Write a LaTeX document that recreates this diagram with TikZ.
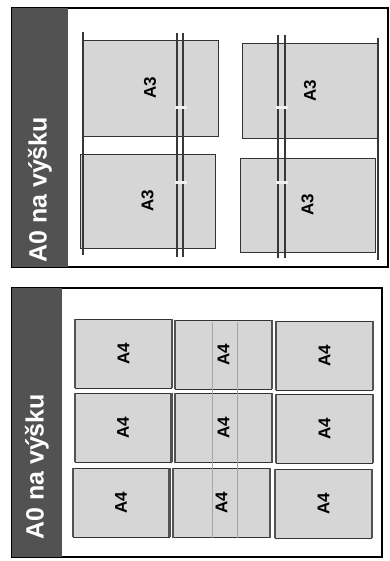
\documentclass[tikz,border=0pt]{standalone}
\usepackage{fontspec}
\setsansfont{Liberation Sans}
\begin{document}
\begin{tikzpicture}[x=1pt,y=-1pt,
  frame/.style={draw=black,line width=1.5pt,fill=white},
  darkbar/.style={fill=black!68,draw=none},
  title/.style={text=white,font=\sffamily\bfseries\fontsize{25}{30}\selectfont,rotate=90,anchor=west,inner sep=0pt},
  a3box/.style={draw=black!80,line width=0.8pt,fill=black!16,inner sep=0pt,
    font=\sffamily\bfseries\fontsize{17}{20}\selectfont},
  a4box/.style={draw=black!80,line width=0.8pt,fill=black!16,minimum width=96pt,minimum height=69pt,inner sep=0pt,
    font=\sffamily\bfseries\fontsize{17}{20}\selectfont},
  rail/.style={draw=black!78,line width=1.7pt},
  sideedge/.style={draw=black!68,line width=2.2pt},
  guide/.style={draw=black!35,line width=1pt}
]
\useasboundingbox (0,0) rectangle (390,561);
\fill[white] (0,0) rectangle (390,561);

% ---------- top panel ----------
\draw[frame] (12,8) rectangle (388,267);
\fill[darkbar] (12,8) rectangle (68,267);
\node[title] (t1) at (40,263) {A0 na výšku};

\node[a3box,minimum width=136pt,minimum height=96pt] (p1) at (150,88) {\rotatebox{90}{A3}};
\node[a3box,minimum width=135pt,minimum height=94pt] (p2) at (147.5,201) {\rotatebox{90}{A3}};
\node[a3box,minimum width=136pt,minimum height=95pt] (p3) at (310,90.5) {\rotatebox{90}{A3}};
\node[a3box,minimum width=135pt,minimum height=94pt] (p4) at (307.5,205) {\rotatebox{90}{A3}};

\coordinate (r1a) at (83,32);  \coordinate (r1b) at (83,255);
\coordinate (r2a) at (177,33); \coordinate (r2b) at (177,257);
\coordinate (r3a) at (183,33); \coordinate (r3b) at (183,257);
\coordinate (r4a) at (278,35); \coordinate (r4b) at (278,258);
\coordinate (r5a) at (285,35); \coordinate (r5b) at (285,258);
\coordinate (r6a) at (378,38); \coordinate (r6b) at (378,260);
\draw[rail] (r1a) -- (r1b);
\draw[rail] (r2a) -- (r2b);
\draw[rail] (r3a) -- (r3b);
\draw[rail] (r4a) -- (r4b);
\draw[rail] (r5a) -- (r5b);
\draw[rail] (r6a) -- (r6b);
% small clips on the double rails
\fill[black!6] (175,106.5) rectangle (187,109.5);
\fill[black!6] (175,181.5) rectangle (187,184.5);
\fill[black!6] (276,106.5) rectangle (288,109.5);
\fill[black!6] (276,181.5) rectangle (288,184.5);

% ---------- bottom panel ----------
\draw[frame] (12,288) rectangle (382,557);
\fill[darkbar] (12,288) rectangle (62,557);
\node[title] (t2) at (37,540) {A0 na výšku};

\foreach \nm/\cx/\cy in {b11/123.5/353.5, b12/223.5/354.5, b13/324.5/355.5,
                         b21/123/427.5,   b22/223.5/428,   b23/324.5/428.5,
                         b31/121/502.5,   b32/221.5/503,   b33/323.5/503.5}{
  \node[a4box] (\nm) at (\cx,\cy) {\rotatebox{90}{A4}};
  \draw[sideedge] (\nm.north west) -- (\nm.south west);
  \draw[sideedge] (\nm.north east) -- (\nm.south east);
}

\coordinate (g1a) at (212,322); \coordinate (g1b) at (212,538);
\coordinate (g2a) at (237,322); \coordinate (g2b) at (237,538);
\draw[guide] (g1a) -- (g1b);
\draw[guide] (g2a) -- (g2b);
\end{tikzpicture}
\end{document}
